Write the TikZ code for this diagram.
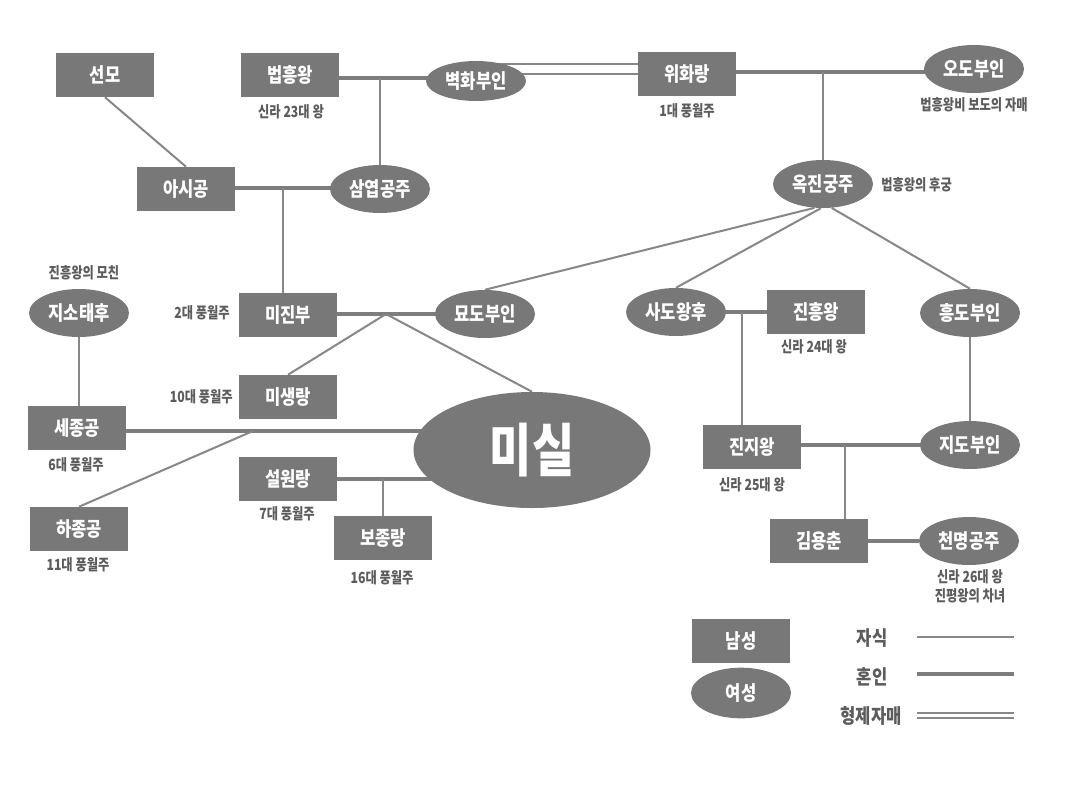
\documentclass[tikz,border=0pt]{standalone}
\usepackage{fontspec}
\setmainfont{Noto Sans CJK KR}
\newfontfamily\krn{Noto Sans CJK KR}[FakeStretch=0.83]
\newfontfamily\krs{Noto Sans CJK KR}[FakeStretch=0.8]
\newfontfamily\krb{Noto Sans CJK KR}[FakeStretch=0.8]
\usetikzlibrary{shapes.geometric,backgrounds}
\definecolor{nodeg}{RGB}{120,120,120}
\definecolor{lineg}{RGB}{125,125,125}
\definecolor{kidg}{RGB}{135,135,135}
\definecolor{noteg}{RGB}{92,92,92}
\tikzset{
  male/.style={rectangle, fill=nodeg, text=white, minimum width=73.5pt, minimum height=33pt, inner sep=0pt, font=\krn\bfseries\fontsize{15}{17}\selectfont},
  female/.style={ellipse, fill=nodeg, text=white, minimum width=75pt, minimum height=36pt, inner sep=0pt, font=\krn\bfseries\fontsize{15}{17}\selectfont},
  note/.style={text=noteg, inner sep=0pt, font=\krs\bfseries\fontsize{11.5}{14}\selectfont},
  legtext/.style={text=noteg, inner sep=0pt, font=\krn\bfseries\fontsize{15}{17}\selectfont},
  marry/.style={draw=lineg, line width=3.2pt},
  kid/.style={draw=kidg, line width=1.5pt},
  sib/.style={draw=kidg, line width=1.5pt, double=white, double distance=6pt},
}
\begin{document}
\begin{tikzpicture}[x=0.75pt, y=-0.75pt]
\useasboundingbox (0,0) rectangle (1080,785);
% people
\node[male]   (sm)  at (105,75)  {선모};
\node[male]   (bh)  at (290,75)  {법흥왕};
\node[female, minimum height=30pt] (bw) at (476,81) {벽화부인};
\node[male]   (wh)  at (687,74)  {위화랑};
\node[female] (od)  at (974,69)  {오도부인};
\node[male]   (as)  at (186,189) {아시공};
\node[female] (sy)  at (380,189) {삼엽공주};
\node[female] (oj)  at (823,184) {옥진궁주};
\node[female] (jst) at (79,313)  {지소태후};
\node[male]   (mj)  at (288,315) {미진부};
\node[female] (md)  at (485,314) {묘도부인};
\node[female] (sd)  at (676,312) {사도왕후};
\node[male]   (jh)  at (816,312) {진흥왕};
\node[female] (hd)  at (970,313) {흥도부인};
\node[male]   (ms)  at (288,397) {미생랑};
\node[male]   (sj)  at (77,428)  {세종공};
\node[female, minimum width=177.75pt, minimum height=87pt, font=\krb\bfseries\fontsize{43}{46}\selectfont] (mi) at (532,450) {미실};
\node[male]   (jj)  at (752,447) {진지왕};
\node[female] (jd)  at (970,445) {지도부인};
\node[male]   (sw)  at (288,479) {설원랑};
\node[male]   (hj)  at (79,529)  {하종공};
\node[male]   (bj)  at (383,538) {보종랑};
\node[male]   (ky)  at (819,541) {김용춘};
\node[female] (cm)  at (969,541) {천명공주};
% notes
\node[note] (nbh) at (291,112) {신라 23대 왕};
\node[note] (nwh) at (687,111) {1대 풍월주};
\node[note] (nod) at (974,105) {법흥왕비 보도의 자매};
\node[note, anchor=west] (noj) at (881,185) {법흥왕의 후궁};
\node[note] (njst) at (84,273) {진흥왕의 모친};
\node[note, anchor=east] (nmj) at (230,313) {2대 풍월주};
\node[note, anchor=east] (nms) at (233,397) {10대 풍월주};
\node[note] (nsj) at (76,465) {6대 풍월주};
\node[note] (nsw) at (287,514) {7대 풍월주};
\node[note] (nhj) at (78,565) {11대 풍월주};
\node[note] (nbj) at (382,578) {16대 풍월주};
\node[note] (njh) at (814,347) {신라 24대 왕};
\node[note] (njj) at (752,485) {신라 25대 왕};
\node[note, align=center] (ncm) at (970,586) {신라 26대 왕\\진평왕의 차녀};
% legend
\node[male]   (lm) at (741,641) {남성};
\node[female, minimum height=38pt] (lf) at (741,693) {여성};
\node[legtext] (lt1) at (872,638) {자식};
\node[legtext] (lt2) at (872,677) {혼인};
\node[legtext] (lt3) at (871,716) {형제자매};
\coordinate (la1) at (917,637); \coordinate (lb1) at (1014,637);
\coordinate (la2) at (917,674); \coordinate (lb2) at (1014,674);
\coordinate (la3) at (917,715.5); \coordinate (lb3) at (1014,715.5);
% junctions
\coordinate (j1) at (380,78);
\coordinate (jd1) at (520,69);
\coordinate (j2) at (823,72);
\coordinate (j3) at (283,188);
\coordinate (j4) at (386,314);
\coordinate (j5) at (253,431);
\coordinate (j6) at (383,479);
\coordinate (j7) at (742,312);
\coordinate (j8) at (845,445);
\begin{pgfonlayer}{background}
\fill[white] (0,0) rectangle (1080,785);
% marriages
\draw[marry] (bh |- j1) -- (bw |- j1);
\draw[marry] (wh |- j2) -- (od |- j2);
\draw[marry] (as |- j3) -- (sy |- j3);
\draw[marry] (mj |- j4) -- (md |- j4);
\draw[marry] (sj |- j5) -- (mi |- j5);
\draw[marry] (sw) -- (mi |- sw);
\draw[marry] (sd |- j7) -- (jh |- j7);
\draw[marry] (jj |- j8) -- (jd |- j8);
\draw[marry] (ky) -- (cm);
% siblings
\draw[sib] (bw |- jd1) -- (wh |- jd1);
% children
\draw[kid] (sm.south) -- (as.north);
\draw[kid] (j1) -- (sy.north);
\draw[kid] (j2) -- (oj.north);
\draw[kid] (j3) -- (j3 |- mj.north);
\draw[kid] (oj.-110) -- (md.north);
\draw[kid] (oj.-95) -- (sd.north);
\draw[kid] (oj.-70) -- (hd.north);
\draw[kid] (j4) -- (ms.north);
\draw[kid] (j4) -- (mi.north);
\draw[kid] (jst.south) -- (jst.south |- sj.north);
\draw[kid] (j5) -- (hj.north);
\draw[kid] (j6) -- (bj.north);
\draw[kid] (j7) -- (j7 |- jj.north);
\draw[kid] (hd.south) -- (jd.north);
\draw[kid] (j8) -- (j8 |- ky.north);
% legend lines
\draw[kid, line width=1.3pt] (la1) -- (lb1);
\draw[marry, line width=3.6pt] (la2) -- (lb2);
\draw[draw=kidg, line width=1.3pt, double=white, double distance=2.2pt] (la3) -- (lb3);
\end{pgfonlayer}
\end{tikzpicture}
\end{document}
